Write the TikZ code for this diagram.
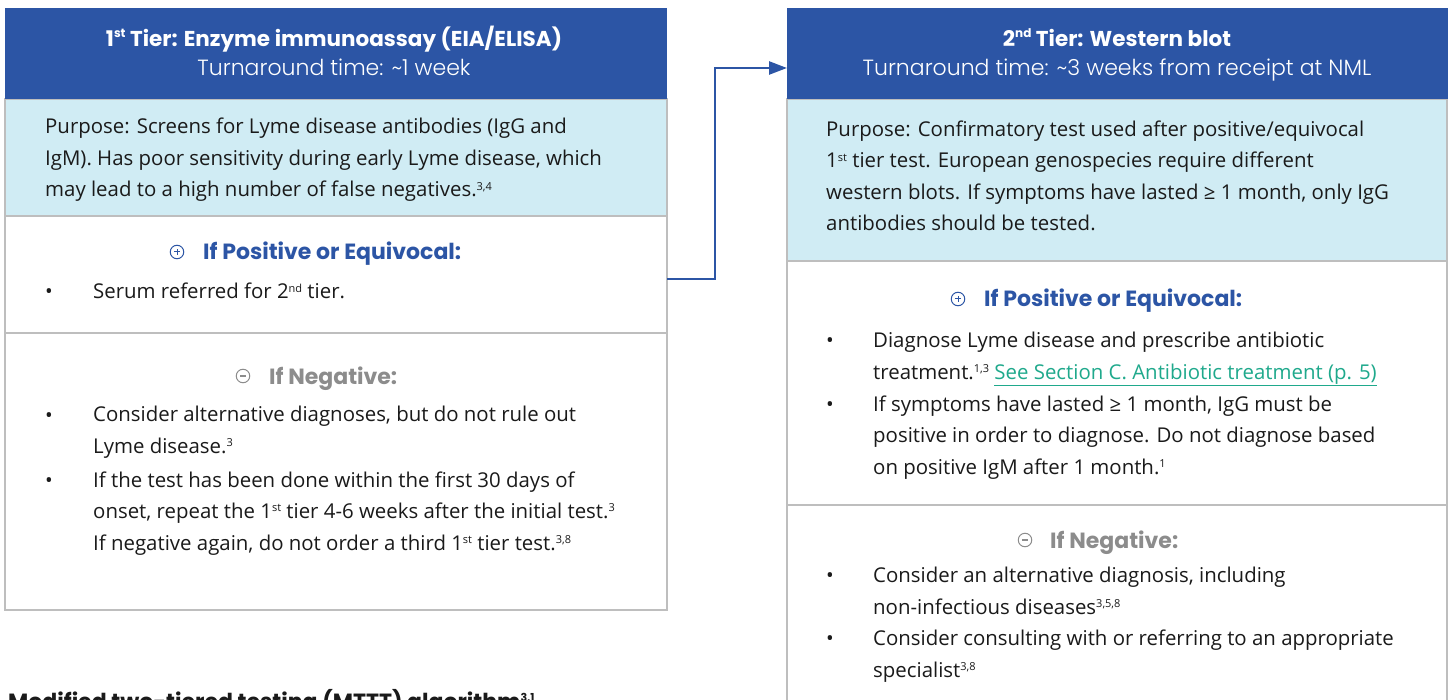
\documentclass[tikz,border=0pt]{standalone}
\usepackage{fontspec}
\usetikzlibrary{arrows.meta}
\setmainfont{Open Sans}
\newfontfamily\popfont{Poppins}
\newfontfamily\poplight{Poppins Light}
\definecolor{hblue}{HTML}{2C55A5}
\definecolor{lblue}{HTML}{D0ECF4}
\definecolor{bgray}{HTML}{BEBEBE}
\definecolor{ngray}{HTML}{8C8C8C}
\definecolor{tblack}{HTML}{1A1A1A}
\definecolor{teal}{HTML}{1FA98C}
\newcommand\mysup[1]{\raisebox{0.62ex}{\fontsize{11}{11}\selectfont #1}}
\newcommand\mysupt[1]{\raisebox{0.75ex}{\fontsize{12}{12}\selectfont #1}}
\tikzset{
 box/.style={draw=bgray, line width=2.5pt, inner sep=0pt, outer sep=0pt, anchor=north west},
 head/.style={fill=hblue, inner sep=0pt, outer sep=0pt, anchor=north west},
 body/.style={font=\fontsize{20.4}{31.5}\selectfont, text=tblack, inner sep=0pt, anchor=base west, align=left},
 ttl/.style={font=\popfont\bfseries\fontsize{21.5}{21.5}\selectfont, text=white, inner sep=0pt, anchor=base},
 tat/.style={font=\poplight\fontsize{22}{22}\selectfont, text=white, inner sep=0pt, anchor=base},
 posh/.style={font=\popfont\bfseries\fontsize{22}{22}\selectfont, text=hblue, inner sep=0pt, anchor=base west},
 negh/.style={font=\popfont\bfseries\fontsize{22}{22}\selectfont, text=ngray, inner sep=0pt, anchor=base west},
 plusicon/.style={circle, draw=hblue, line width=1pt, minimum size=13.5pt, inner sep=0pt,
   path picture={\draw[hblue, line width=1pt] ([xshift=-3pt]path picture bounding box.center) -- ++(6pt,0pt);
                 \draw[hblue, line width=1pt] ([yshift=-3pt]path picture bounding box.center) -- ++(0pt,6pt);}},
 minusicon/.style={circle, draw=ngray, line width=1pt, minimum size=13.5pt, inner sep=0pt,
   path picture={\draw[ngray, line width=1.6pt] ([xshift=-2.6pt]path picture bounding box.center) -- ++(5.2pt,0pt);}},
 flow/.style={draw=hblue, line width=2.5pt, -{Triangle[length=18pt,width=13pt]}},
}
\begin{document}
\begin{tikzpicture}[x=1pt,y=-1pt]
\useasboundingbox (0,0) rectangle (1450,700);
% ---------- left column
\node[box, fill=white, minimum width=662pt, minimum height=277pt] (Lneg) at (5,333) {};
\node[box, fill=white, minimum width=662pt, minimum height=117pt] (Lpos) at (5,216) {};
\node[box, fill=lblue, minimum width=662pt, minimum height=117pt] (Lpurp) at (5,99) {};
\node[head, minimum width=662pt, minimum height=91pt] (Lhead) at (5,8) {};
% ---------- right column
\node[box, fill=white, minimum width=660pt, minimum height=230pt] (Rneg) at (787,505) {};
\node[box, fill=white, minimum width=660pt, minimum height=244pt] (Rpos) at (787,261) {};
\node[box, fill=lblue, minimum width=660pt, minimum height=162pt] (Rpurp) at (787,99) {};
\node[head, minimum width=661pt, minimum height=91pt] (Rhead) at (787,8) {};
% ---------- connector
\draw[flow] ([yshift=-4.5pt]Lpos.east) -- ++(48,0) |- ([yshift=-14.5pt]Rhead.west);
% ---------- left texts (multi-line nodes anchored on their last baseline)
\node[ttl] (Lt1) at (334,46.5) {1\mysupt{st} Tier: Enzyme immunoassay (EIA/ELISA)};
\node[tat] (Lt2) at (334,75.5) {Turnaround time: \textasciitilde1 week};
\node[body] (Lp) at (45,197) {Purpose: Screens for Lyme disease antibodies (IgG and\\IgM). Has poor sensitivity during early Lyme disease, which\\may lead to a high number of false negatives.\mysup{3,4}};
\node[plusicon] (Lpi) at (177,252) {};
\node[posh] (Lph) at (203,260) {If Positive or Equivocal:};
\node[body] (Lb1) at (45,299) {\textbullet};
\node[body] (Lb1t) at (93,299) {Serum referred for 2\mysup{nd} tier.};
\node[minusicon] (Lni) at (243,376) {};
\node[negh] (Lnh) at (269,384) {If Negative:};
\node[body] (Lb2) at (45,422) {\textbullet};
\node[body] (Lb2t) at (93,453) {Consider alternative diagnoses, but do not rule out\\Lyme disease.\mysup{3}};
\node[body] (Lb3) at (45,487) {\textbullet};
\node[body] (Lb3t) at (93,550) {If the test has been done within the first 30 days of\\onset, repeat the 1\mysup{st} tier 4-6 weeks after the initial test.\mysup{3}\\If negative again, do not order a third 1\mysup{st} tier test.\mysup{3,8}};
% ---------- right texts
\node[ttl] (Rt1) at (1117,46.5) {2\mysupt{nd} Tier: Western blot};
\node[tat] (Rt2) at (1117,75.5) {Turnaround time: \textasciitilde3 weeks from receipt at NML};
\node[body] (Rp) at (826,231) {Purpose: Confirmatory test used after positive/equivocal\\1\mysup{st} tier test. European genospecies require different\\western blots. If symptoms have lasted ≥ 1 month, only IgG\\antibodies should be tested.};
\node[plusicon] (Rpi) at (958,299) {};
\node[posh] (Rph) at (984,307) {If Positive or Equivocal:};
\node[body] (Rb1) at (826,347) {\textbullet};
\node[body] (Rb1t) at (873,379) {Diagnose Lyme disease and prescribe antibiotic\\treatment.\mysup{1,3} \textcolor{teal}{\underline{See Section C. Antibiotic treatment (p. 5)}}};
\node[body] (Rb2) at (826,411) {\textbullet};
\node[body] (Rb2t) at (873,474) {If symptoms have lasted ≥ 1 month, IgG must be\\positive in order to diagnose. Do not diagnose based\\on positive IgM after 1 month.\mysup{1}};
\node[minusicon] (Rni) at (1025,540) {};
\node[negh] (Rnh) at (1050,548) {If Negative:};
\node[body] (Rb3) at (826,582) {\textbullet};
\node[body] (Rb3t) at (873,614) {Consider an alternative diagnosis, including\\non-infectious diseases\mysup{3,5,8}};
\node[body] (Rb4) at (826,645) {\textbullet};
\node[body] (Rb4t) at (873,677) {Consider consulting with or referring to an appropriate\\specialist\mysup{3,8}};
% ---------- cut-off caption
\node[font=\popfont\bfseries\fontsize{22}{22}\selectfont, text=tblack, inner sep=0pt, anchor=base west] (cap) at (8,709) {Modified two-tiered testing (MTTT) algorithm\mysup{3,1}};
\end{tikzpicture}
\end{document}
